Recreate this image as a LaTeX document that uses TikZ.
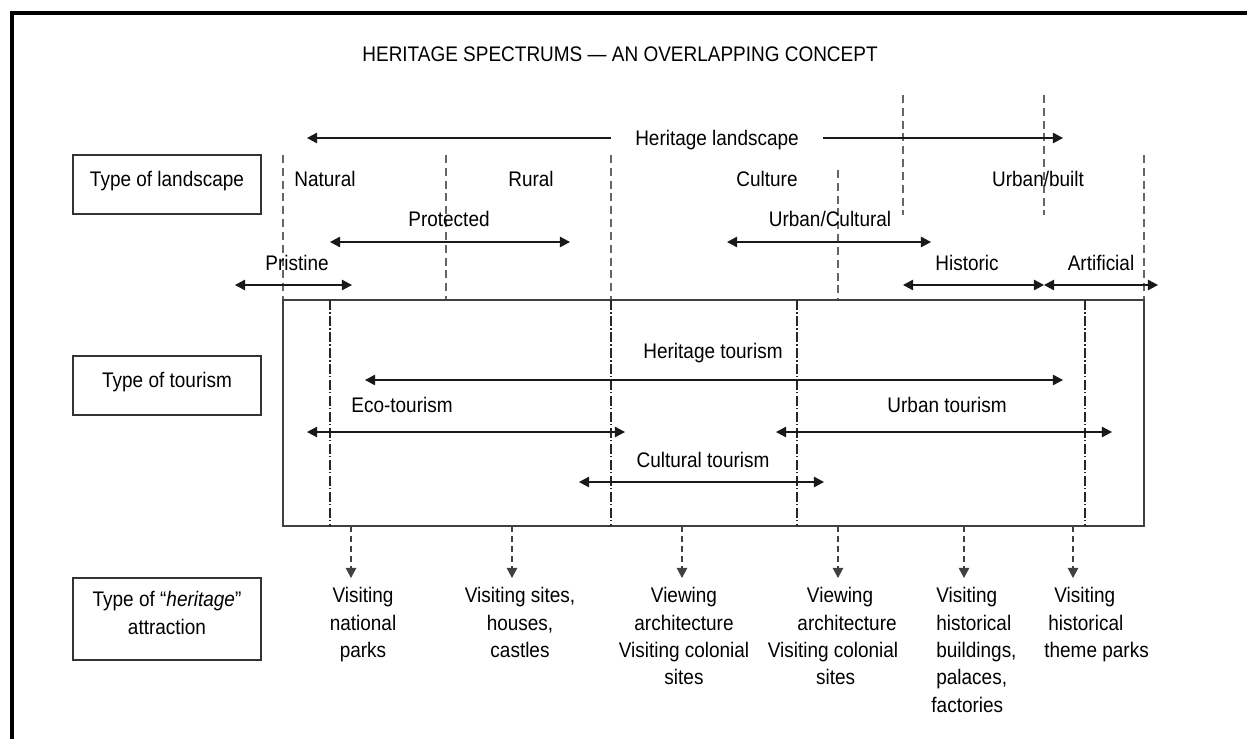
\documentclass[tikz,border=0pt]{standalone}
\usepackage{fontspec}
\setmainfont{Liberation Sans}[FakeStretch=0.9]
\usetikzlibrary{arrows.meta,fit}
\begin{document}
\begin{tikzpicture}[x=0.02cm,y=-0.02cm,
  >={Triangle[length=5.8pt,width=6pt]},
  txt/.style={font=\fontsize{12}{15.6}\selectfont, inner sep=0pt, anchor=base},
  multi/.style={txt, align=center, anchor=north},
  leftmulti/.style={txt, align=left, anchor=north west},
  labelbox/.style={draw=black!80, line width=0.8pt, inner sep=0pt},
  tourbox/.style={draw=black!75, line width=0.8pt, inner sep=0pt},
  guide/.style={draw=black!60, line width=0.7pt, dash pattern=on 4.5pt off 2.8pt},
  dashdot/.style={draw=black!85, line width=0.6pt, dash pattern=on 5.7pt off 1.4pt on 0.6pt off 1.4pt},
  span/.style={draw=black!90, line width=0.8pt},
  downarr/.style={draw=black!75, line width=0.8pt, dash pattern=on 3.4pt off 2.3pt, ->}
]
\useasboundingbox (0,0) rectangle (1247,738);

% outer frame of the page
\draw[line width=1.8pt, black] (12,760) -- (12,13) -- (1270,13);

% title
\node[txt] (title) at (620,61) {HERITAGE SPECTRUMS --- AN OVERLAPPING CONCEPT};

% row headings on the left
\node[labelbox, fit={(73,155) (261,214)}] (box1) {};
\node[txt] (t1) at (167,186) {Type of landscape};
\node[labelbox, fit={(73,356) (261,415)}] (box2) {};
\node[txt] (t2) at (167,387) {Type of tourism};
\node[labelbox, fit={(73,578) (261,660)}] (box3) {};
\node[multi] (t3) at (167,591) {Type of \textquotedblleft\textit{heritage}\textquotedblright\\attraction};

% landscape boundaries
\draw[guide] (283,155) -- (283,300);
\draw[guide] (446,155) -- (446,300);
\draw[guide] (611,155) -- (611,300);
\draw[guide] (838,170) -- (838,300);
\draw[guide] (903,95) -- (903,215);
\draw[guide] (1044,95) -- (1044,215);
\draw[guide] (1144,155) -- (1144,300);

% heritage landscape spectrum
\node[txt] (hl) at (717,145) {Heritage landscape};
\draw[span,<-] (307,138) -- (611,138);
\draw[span,->] (823,138) -- (1063,138);

\node[txt] (natural) at (325,186) {Natural};
\node[txt] (rural) at (531,186) {Rural};
\node[txt] (culture) at (767,186) {Culture};
\node[txt] (urbanbuilt) at (1038,186) {Urban/built};

\node[txt] (protected) at (449,226) {Protected};
\draw[span,<->] (330,242) -- (570,242);
\node[txt] (urbcult) at (830,226) {Urban/Cultural};
\draw[span,<->] (727,242) -- (931,242);

\node[txt] (pristine) at (297,270) {Pristine};
\draw[span,<->] (235,285) -- (352,285);
\node[txt] (historic) at (967,270) {Historic};
\draw[span,<->] (903,285) -- (1044,285);
\node[txt] (artificial) at (1101,270) {Artificial};
\draw[span,<->] (1044,285) -- (1158,285);

% tourism panel
\node[tourbox, fit={(283,300) (1144,526)}] (tb) {};
\draw[dashdot] (330,300) -- (330,526);
\draw[dashdot] (611,300) -- (611,526);
\draw[dashdot] (797,300) -- (797,526);
\draw[dashdot] (1085,300) -- (1085,526);

\node[txt] (herit) at (713,358) {Heritage tourism};
\draw[span,<->] (365,380) -- (1063,380);
\node[txt] (eco) at (402,412) {Eco-tourism};
\draw[span,<->] (307,432) -- (625,432);
\node[txt] (urbt) at (947,412) {Urban tourism};
\draw[span,<->] (776,432) -- (1112,432);
\node[txt] (cult) at (703,467) {Cultural tourism};
\draw[span,<->] (579,482) -- (824,482);

% attractions
\draw[downarr] (351,526) -- (351,578);
\draw[downarr] (512,526) -- (512,578);
\draw[downarr] (682,526) -- (682,578);
\draw[downarr] (838,526) -- (838,578);
\draw[downarr] (964,526) -- (964,578);
\draw[downarr] (1073,526) -- (1073,578);

\node[multi] (a1) at (363,587) {Visiting\\national\\parks};
\node[multi] (a2) at (520,587) {Visiting sites,\\houses,\\castles};
\node[multi] (a3) at (684,587) {Viewing\\architecture\\Visiting colonial\\sites};
\node[multi] (a4) at (833,587) {\hspace*{8pt}Viewing\\\hspace*{16pt}architecture\\Visiting colonial\\\hspace*{3pt}sites};
\node[leftmulti] (a5) at (936,587) {Visiting\\historical\\buildings,\\palaces,\\\hspace*{-2.8pt}factories};
\node[leftmulti] (a6) at (1044,587) {\hspace*{5.7pt}Visiting\\\hspace*{2.3pt}historical\\theme parks};
\end{tikzpicture}
\end{document}
